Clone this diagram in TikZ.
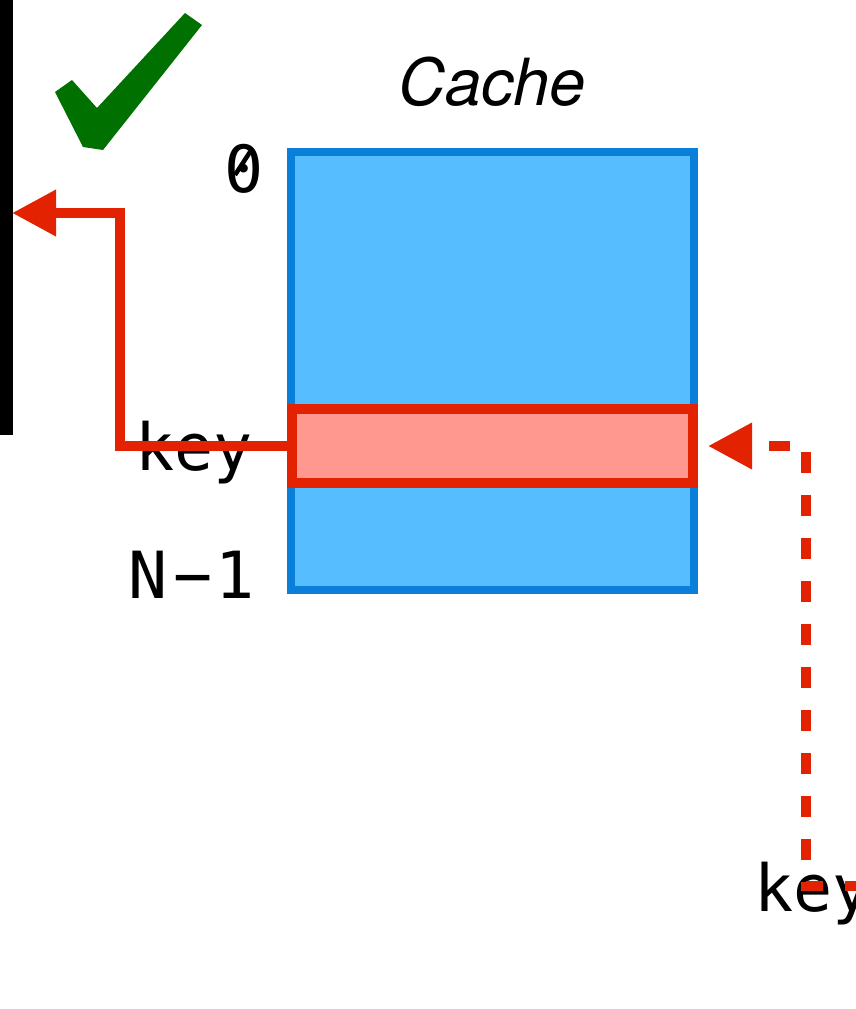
\documentclass[tikz,border=0pt]{standalone}
\usepackage{fontspec}
\usetikzlibrary{arrows.meta}
\newfontfamily\monofont{DejaVu Sans Mono}
\newfontfamily\titlefont{TeX Gyre Heros}
\definecolor{cacheblue}{RGB}{10,127,217}
\definecolor{cachefill}{RGB}{86,190,255}
\definecolor{hitred}{RGB}{226,34,0}
\definecolor{hitfill}{RGB}{255,152,142}
\definecolor{okgreen}{RGB}{0,112,0}
\tikzset{
  idx/.style={font=\monofont\fontsize{65}{70}\selectfont, inner sep=0pt, outer sep=0pt},
  cachebox/.style={draw=cacheblue, fill=cachefill, line width=8pt, inner sep=0pt, outer sep=0pt},
  slotbox/.style={draw=hitred, fill=hitfill, line width=10pt, inner sep=0pt, outer sep=0pt},
  hitpath/.style={draw=hitred, line width=10pt, line join=miter, -{Triangle[length=44pt,width=44pt]}},
  lookup/.style={hitpath, dash pattern=on 21pt off 22pt, dash phase=0pt}
}
\begin{document}
\begin{tikzpicture}[x=1pt, y=-1pt]
  \useasboundingbox (0,0) rectangle (856,1009);

  % black bar on the left edge
  \node[fill=black, inner sep=0pt, outer sep=0pt, minimum width=13pt, minimum height=435pt, anchor=north west] (bar) at (0,0) {};

  % green tick
  \fill[okgreen, line join=round] (55,92) -- (72,80) -- (97,108) -- (185,13) -- (202,25) -- (103,150) -- (83,147) -- cycle;

  % cache array and the selected slot
  \node[cachebox, minimum width=403pt, minimum height=438pt] (cache) at (492.5,371) {};
  \node[slotbox, minimum width=401pt, minimum height=74pt] (slot) at (492.5,446) {};

  % labels
  \node[font=\titlefont\itshape\fontsize{65}{70}\selectfont, anchor=base, inner sep=0pt] (title) at (492,105) {Cache};
  \node[idx, anchor=base east] (first) at (264,192) {0};
  \draw[line width=4.5pt] ([shift={(-29,-17)}]first.base east) -- ([shift={(-14,-40)}]first.base east);
  \node[idx, anchor=base west] (last) at (128,598) {N\hspace{6pt}−\hspace{3pt}1};
  \node[idx, anchor=base west] (keyl) at (135,470) {key};
  \node[idx, anchor=base west] (keyr) at (754,911) {key};

  % connectors
  \coordinate (bend) at (120,213);
  \draw[hitpath, shorten >=-1pt] (slot.west) -| (bend) -- (bend -| bar.east);

  \coordinate (src) at (866,886);
  \coordinate (turn) at (806,446);
  \draw[lookup, shorten >=15pt] (src) -| (turn) -- (turn -| slot.east);
\end{tikzpicture}
\end{document}
